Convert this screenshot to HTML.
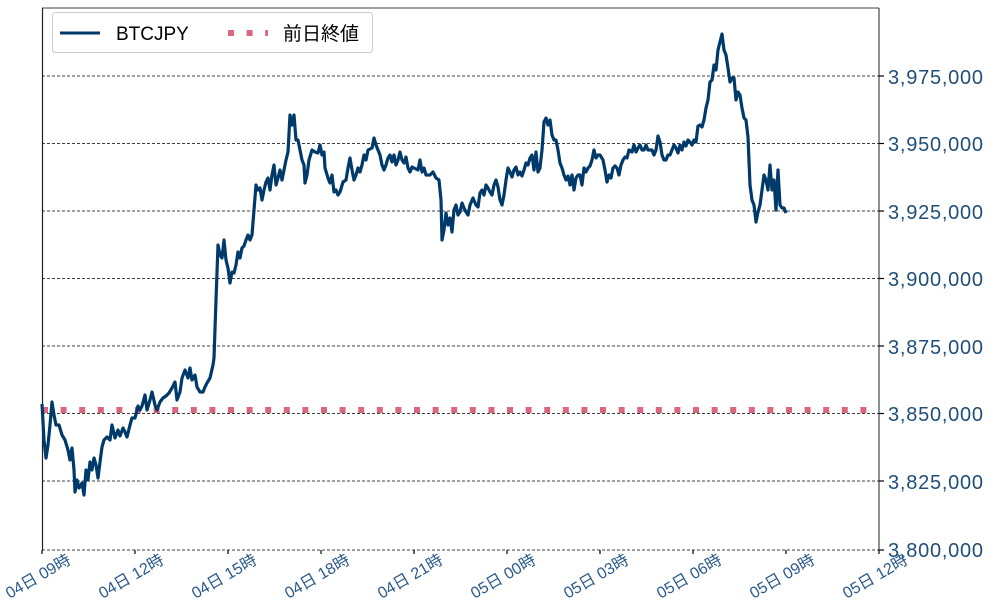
<!DOCTYPE html>
<html><head><meta charset="utf-8"><style>body{margin:0;background:#fff}svg{display:block}</style></head><body>
<svg width="991" height="613" xmlns="http://www.w3.org/2000/svg" font-family="'Liberation Sans','Noto Sans CJK JP',sans-serif">
<rect width="991" height="613" fill="#fff"/>
<g stroke="#000" stroke-width="0.8" stroke-dasharray="3,2">
<line x1="42" x2="879" y1="76" y2="76"/><line x1="42" x2="879" y1="143.5" y2="143.5"/><line x1="42" x2="879" y1="211" y2="211"/><line x1="42" x2="879" y1="278.5" y2="278.5"/><line x1="42" x2="879" y1="346" y2="346"/><line x1="42" x2="879" y1="413.5" y2="413.5"/><line x1="42" x2="879" y1="481" y2="481"/><line x1="42" x2="879" y1="550" y2="550"/>
</g>
<line x1="42" y1="8" x2="879" y2="8" stroke="#000" stroke-width="0.8"/>
<line x1="42.5" y1="8" x2="42.5" y2="550" stroke="#222" stroke-width="1.2"/>
<line x1="879" y1="8" x2="879" y2="550" stroke="#222" stroke-width="1"/>
<g stroke="#000" stroke-width="1.2">
<line x1="879" x2="884" y1="76" y2="76"/><line x1="879" x2="884" y1="143.5" y2="143.5"/><line x1="879" x2="884" y1="211" y2="211"/><line x1="879" x2="884" y1="278.5" y2="278.5"/><line x1="879" x2="884" y1="346" y2="346"/><line x1="879" x2="884" y1="413.5" y2="413.5"/><line x1="879" x2="884" y1="481" y2="481"/><line x1="879" x2="884" y1="550" y2="550"/>
<line x1="42" x2="42" y1="550" y2="554"/><line x1="135" x2="135" y1="550" y2="554"/><line x1="228" x2="228" y1="550" y2="554"/><line x1="321" x2="321" y1="550" y2="554"/><line x1="414" x2="414" y1="550" y2="554"/><line x1="507" x2="507" y1="550" y2="554"/><line x1="600" x2="600" y1="550" y2="554"/><line x1="693" x2="693" y1="550" y2="554"/><line x1="786" x2="786" y1="550" y2="554"/><line x1="879" x2="879" y1="550" y2="554"/>
</g>
<g fill="#1f4e79" font-size="20" textLength="95">
<text x="888" y="84" textLength="95">3,975,000</text><text x="888" y="151" textLength="95">3,950,000</text><text x="888" y="219" textLength="95">3,925,000</text><text x="888" y="286" textLength="95">3,900,000</text><text x="888" y="354" textLength="95">3,875,000</text><text x="888" y="421" textLength="95">3,850,000</text><text x="888" y="489" textLength="95">3,825,000</text><text x="888" y="557" textLength="95">3,800,000</text>
</g>
<g fill="#2b5a8a" font-size="16" text-anchor="end">
<text transform="translate(72,563) rotate(-30)">04日 09時</text>
<text transform="translate(165,563) rotate(-30)">04日 12時</text>
<text transform="translate(258,563) rotate(-30)">04日 15時</text>
<text transform="translate(351,563) rotate(-30)">04日 18時</text>
<text transform="translate(444,563) rotate(-30)">04日 21時</text>
<text transform="translate(537,563) rotate(-30)">05日 00時</text>
<text transform="translate(630,563) rotate(-30)">05日 03時</text>
<text transform="translate(723,563) rotate(-30)">05日 06時</text>
<text transform="translate(816,563) rotate(-30)">05日 09時</text>
<text transform="translate(909,563) rotate(-30)">05日 12時</text>
</g>
<line x1="42" x2="879" y1="410" y2="410" stroke="#d9687f" stroke-width="6" stroke-dasharray="6,12.6"/>
<polyline fill="none" stroke="#003a6b" stroke-width="3.2" stroke-linejoin="round" points="42,404 44,440 46,458 48,445 50,425 52,402 54,415 56,425 59,425 62,435 65,440 68,450 70,460 72,448 74,470 75,492 77,480 79,488 82,483 84,495 86,470 88,480 90,462 92,470 94,458 96,465 98,478 100,462 102,447 104,440 107,437 110,440 112,425 115,438 118,430 120,436 123,428 125,432 127,437 130,425 132,418 135,418 138,406 140,410 142,406 145,395 147,410 150,400 152,392 155,405 157,410 160,402 163,398 166,396 169,393 172,388 175,382 177,400 180,392 182,378 185,370 188,378 190,368 192,380 195,375 197,387 200,392 203,392 205,387 207,383 210,378 213,365 214,358 216,300 218,245 220,255 222,258 224,240 226,260 228,268 230,283 232,272 234,273 236,265 238,252 240,258 242,248 244,246 246,240 248,235 250,240 252,235 254,210 256,185 258,190 260,188 262,200 264,190 266,182 268,178 270,190 272,175 274,165 276,185 278,178 280,170 282,180 284,170 286,160 288,152 290,115 292,125 294,115 296,140 298,140 300,150 302,160 304,165 305,183 307,175 309,160 312,150 315,152 318,153 320,145 322,155 324,152 325,168 328,178 330,183 332,175 334,192 336,190 338,195 340,192 343,182 346,180 348,168 350,158 352,170 354,180 356,175 358,168 360,172 362,165 364,155 366,160 368,150 372,148 374,138 376,145 378,150 380,155 382,165 384,170 386,165 388,158 390,155 392,162 394,155 396,165 398,160 400,152 402,160 404,163 406,157 408,168 410,172 412,167 414,168 418,170 420,160 422,172 424,168 426,175 430,175 433,172 436,178 439,180 441,200 442,240 444,230 446,213 448,225 450,218 452,232 454,210 456,205 458,215 460,212 462,203 464,208 466,212 468,215 470,205 473,198 476,205 478,207 480,193 482,190 484,195 486,185 488,188 490,192 492,195 494,185 496,180 498,187 500,200 502,205 504,195 506,180 508,168 510,172 512,177 514,170 516,167 518,175 520,172 522,176 524,170 526,163 528,165 530,158 532,155 534,170 536,152 538,172 540,168 542,150 544,122 546,118 548,125 550,120 552,135 554,140 556,140 558,150 560,163 562,168 564,175 566,180 568,176 570,185 572,175 574,190 576,178 578,175 580,175 582,185 584,168 586,172 588,168 590,166 592,160 594,150 596,158 598,155 600,155 603,160 605,170 607,182 609,175 611,178 613,168 615,166 617,168 619,175 621,165 623,160 625,157 627,158 629,150 632,152 634,145 636,152 638,148 640,145 642,150 644,150 646,145 648,150 650,150 652,150 654,155 656,150 658,136 660,142 662,155 664,160 666,160 668,155 670,155 672,150 674,145 676,148 678,153 680,145 682,150 684,142 686,146 688,140 690,142 692,145 694,140 696,142 698,126 700,125 702,127 704,120 706,108 708,100 710,82 712,80 714,65 716,70 718,50 720,42 722,34 724,50 726,55 728,68 730,82 732,78 734,78 736,100 738,92 740,95 742,108 744,118 746,120 748,137 750,185 752,200 754,205 756,222 758,212 760,205 762,190 764,175 766,180 768,190 770,165 772,190 774,180 776,210 778,170 780,205 782,208 784,208 786,213"/>
<rect x="52.5" y="12.5" width="320" height="40" rx="3" fill="#fff" fill-opacity="0.85" stroke="#ccc"/>
<line x1="60" x2="100" y1="33" y2="33" stroke="#003a6b" stroke-width="3"/>
<text x="116" y="40" font-size="19" fill="#000">BTCJPY</text>
<line x1="228" x2="268" y1="33" y2="33" stroke="#d9687f" stroke-width="6" stroke-dasharray="6,12.6"/>
<text x="283" y="40" font-size="19" fill="#000">前日終値</text>
</svg>
</body></html>
